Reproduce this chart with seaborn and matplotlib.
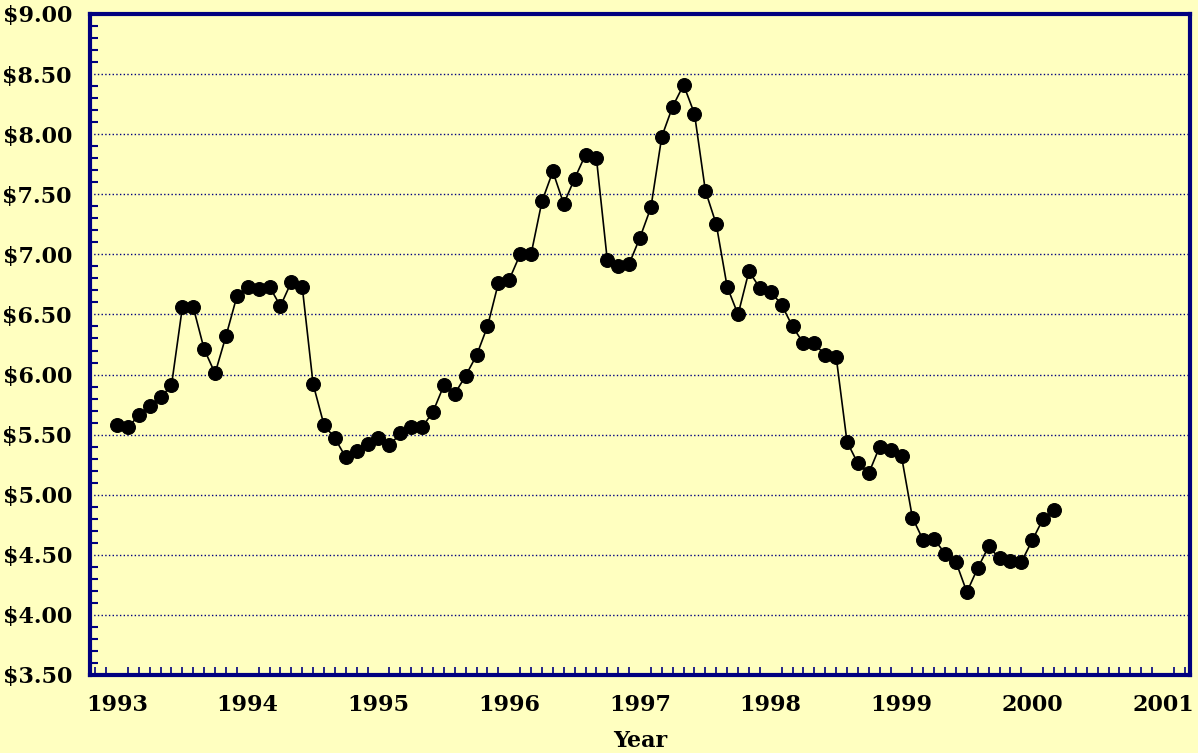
import numpy as np
import pandas as pd
import seaborn as sns
import matplotlib.pyplot as plt
from matplotlib.ticker import MultipleLocator

# monthly price, Jan 1993 - Mar 2000
prices = [5.58, 5.56, 5.66, 5.74, 5.81, 5.91, 6.56, 6.56, 6.21, 6.01, 6.32, 6.65,
          6.73, 6.71, 6.73, 6.57, 6.77, 6.73, 5.92, 5.58, 5.47, 5.31, 5.36, 5.42,
          5.47, 5.41, 5.51, 5.56, 5.56, 5.69, 5.91, 5.84, 5.99, 6.16, 6.40, 6.76,
          6.79, 7.00, 7.00, 7.44, 7.69, 7.42, 7.63, 7.83, 7.80, 6.95, 6.90, 6.92,
          7.14, 7.39, 7.98, 8.23, 8.41, 8.17, 7.53, 7.25, 6.73, 6.50, 6.86, 6.72,
          6.69, 6.58, 6.40, 6.26, 6.26, 6.16, 6.15, 5.44, 5.26, 5.18, 5.40, 5.37,
          5.32, 4.81, 4.62, 4.63, 4.51, 4.44, 4.19, 4.39, 4.57, 4.47, 4.45, 4.44,
          4.62, 4.80, 4.87]
start_year = 1993
years = list(range(1993, 2002))
price_ticks = [3.5, 4.0, 4.5, 5.0, 5.5, 6.0, 6.5, 7.0, 7.5, 8.0, 8.5, 9.0]
price_labels = ['$3.50', '$4.00', '$4.50', '$5.00', '$5.50', '$6.00',
                '$6.50', '$7.00', '$7.50', '$8.00', '$8.50', '$9.00']

df = pd.DataFrame({'year': start_year + np.arange(len(prices)) / 12.0,
                   'price': prices})

bg = '#FFFFC0'
navy = '#000080'
sns.set_style('white')
plt.rcParams['font.family'] = ['DejaVu Serif']
plt.rcParams['font.weight'] = 'bold'
plt.rcParams['text.color'] = 'black'
plt.rcParams['axes.labelcolor'] = 'black'

fig = plt.figure(figsize=(11.98, 7.53), dpi=100, facecolor=bg)
ax = fig.add_axes([90/1198, 1 - 675/753, 1100/1198, 661/753])
ax.set_facecolor(bg)

sns.lineplot(data=df, x='year', y='price', ax=ax, color='black', linewidth=1.2,
             marker='o', markersize=10, markerfacecolor='black',
             markeredgecolor='black')

ax.set_xlim(1992.7935, 2001.2065)
ax.set_ylim(3.5, 9.0)
ax.set_xticks(years)
ax.set_xticklabels([str(y) for y in years])
ax.xaxis.set_minor_locator(MultipleLocator(1/12))
ax.set_yticks(price_ticks)
ax.set_yticklabels(price_labels)
ax.yaxis.set_minor_locator(MultipleLocator(0.1))

for s in ax.spines.values():
    s.set_color(navy)
    s.set_linewidth(3)

ax.tick_params(axis='x', which='major', direction='in', length=11, width=1.2,
               color=navy, pad=14, labelsize=16, labelcolor='black')
ax.tick_params(axis='x', which='minor', direction='in', length=5.5, width=1.2,
               color=navy, bottom=True)
ax.tick_params(axis='y', which='major', direction='in', length=5.5, width=1.5,
               color=navy, pad=13, labelsize=16, labelcolor='black')
ax.tick_params(axis='y', which='minor', direction='in', length=5.5, width=1.5,
               color=navy, left=True)

for t in price_ticks[1:-1]:
    ax.axhline(t, color=navy, linestyle=':', linewidth=1, zorder=0)

ax.set_xlabel('Year', fontsize=16, fontweight='bold', labelpad=10)
ax.set_ylabel('')

fig.savefig('out.png', dpi=100, facecolor=bg)
